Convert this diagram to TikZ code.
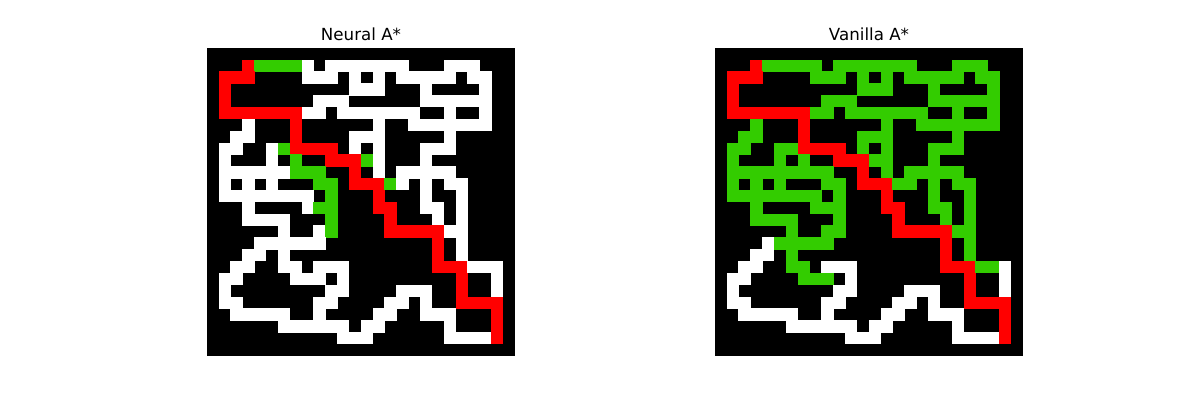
\documentclass[tikz,border=0pt]{standalone}
\usepackage{fontspec}
\setmainfont{DejaVu Sans}
\definecolor{mzgreen}{RGB}{51,204,0}
\definecolor{mzred}{RGB}{255,0,0}
\newcount\mzx
\newcount\mzy
\def\mzrow#1{\mzx=0 \mzparse#1\relax\advance\mzy by 1 }
\def\mzparse#1{\ifx#1\relax\else\mzcell#1\advance\mzx by 1 \expandafter\mzparse\fi}
\def\mzcell#1{%
  \if#1w\fill[white] (\the\mzx-0.02,\the\mzy-0.02) rectangle ++(1.04,1.04);\fi
  \if#1g\fill[mzgreen] (\the\mzx-0.02,\the\mzy-0.02) rectangle ++(1.04,1.04);\fi
  \if#1r\fill[mzred] (\the\mzx-0.02,\the\mzy-0.02) rectangle ++(1.04,1.04);\fi}
\tikzset{mztitle/.style={anchor=base, font=\fontsize{16.67}{20}\selectfont, inner sep=0pt}}
\begin{document}
\begin{tikzpicture}[x=1pt, y=-1pt]
\useasboundingbox[fill=white] (0,0) rectangle (1200,400);
\node[mztitle] (t1) at (361,40) {Neural A*};
\node[mztitle] (t2) at (869,40) {Vanilla A*};
% Neural A*
\begin{scope}[shift={(207,48)}, x=11.846pt, y=-11.846pt]
\fill[black] (0,0) rectangle (26,26);
\mzy=0
\mzrow{kkkkkkkkkkkkkkkkkkkkkkkkkk}
\mzrow{kkkrggggwkwwwwwwwkkkwwwkkk}
\mzrow{krrrkkkkwwwkwkwkwwwwwkwwkk}
\mzrow{krkkkkkkkkkkwwwkkkwkkkkwkk}
\mzrow{krkkkkkkkwwwkkkkkkwwwwwwkk}
\mzrow{krrrrrrrwwkwwwwwwwkkwkkwkk}
\mzrow{kkkwkkkrkkkkkkwkkwwwwwwwkk}
\mzrow{kkwwkkkrkkkkwwwkkkkkwkkkkk}
\mzrow{kwwkkwgrrrrkwkwkkkwwwkkkkk}
\mzrow{kwkkkwkgkkrrrgwkkkwkkkkkkk}
\mzrow{kwwwwwwgggkkrkwkwwwwwkkkkk}
\mzrow{kwkwkwkkkggkrrrgwkwkwwkkkk}
\mzrow{kwwwwwwwwkgkkkrkkkwkkwkkkk}
\mzrow{kkkwkkkkwggkkkrrkkwwkwkkkk}
\mzrow{kkkwwwwkkkgkkkkrkkkwkwkkkk}
\mzrow{kkkkkkwkkwgkkkkrrrrrwwkkkk}
\mzrow{kkkkwwwwwwkkkkkkkkkrkwkkkk}
\mzrow{kkkwwkwkkkkkkkkkkkkrkwkkkk}
\mzrow{kkwwkkwwkwwwkkkkkkkrrrwwwk}
\mzrow{kwwkkkkwwwkwkkkkkkkkkrkkwk}
\mzrow{kwkkkkkkkkwwkkkkwwwkkrkkwk}
\mzrow{kwwkkkkkkwwkkkkwwkwkkrrrrk}
\mzrow{kkwwwwwkkwkkkkwwkkwwwkkkrk}
\mzrow{kkkkkkwwwwwwkwwkkkkkwkkkrk}
\mzrow{kkkkkkkkkkkwwwkkkkkkwwwwrk}
\end{scope}
% Vanilla A*
\begin{scope}[shift={(715,48)}, x=11.846pt, y=-11.846pt]
\fill[black] (0,0) rectangle (26,26);
\mzy=0
\mzrow{kkkkkkkkkkkkkkkkkkkkkkkkkk}
\mzrow{kkkrgggggkgggggggkkkgggkkk}
\mzrow{krrrkkkkgggkgkgkgggggkggkk}
\mzrow{krkkkkkkkkkkgggkkkgkkkkgkk}
\mzrow{krkkkkkkkgggkkkkkkggggggkk}
\mzrow{krrrrrrrggkgggggggkkgkkgkk}
\mzrow{kkkgkkkrkkkkkkgkkgggggggkk}
\mzrow{kkggkkkrkkkkgggkkkkkgkkkkk}
\mzrow{kggkkggrrrrkgkgkkkgggkkkkk}
\mzrow{kgkkkgkgkkrrrggkkkgkkkkkkk}
\mzrow{kgggggggggkkrkgkgggggkkkkk}
\mzrow{kgkgkgkkkggkrrrggkgkggkkkk}
\mzrow{kggggggggkgkkkrkkkgkkgkkkk}
\mzrow{kkkgkkkkgggkkkrrkkggkgkkkk}
\mzrow{kkkggggkkkgkkkkrkkkgkgkkkk}
\mzrow{kkkkkkgkkggkkkkrrrrrggkkkk}
\mzrow{kkkkwgggggkkkkkkkkkrkgkkkk}
\mzrow{kkkwwkgkkkkkkkkkkkkrkgkkkk}
\mzrow{kkwwkkggkwwwkkkkkkkrrrggwk}
\mzrow{kwwkkkkgggkwkkkkkkkkkrkkwk}
\mzrow{kwkkkkkkkkwwkkkkwwwkkrkkwk}
\mzrow{kwwkkkkkkwwkkkkwwkwkkrrrrk}
\mzrow{kkwwwwwkkwkkkkwwkkwwwkkkrk}
\mzrow{kkkkkkwwwwwwkwwkkkkkwkkkrk}
\mzrow{kkkkkkkkkkkwwwkkkkkkwwwwrk}
\end{scope}
\end{tikzpicture}
\end{document}
